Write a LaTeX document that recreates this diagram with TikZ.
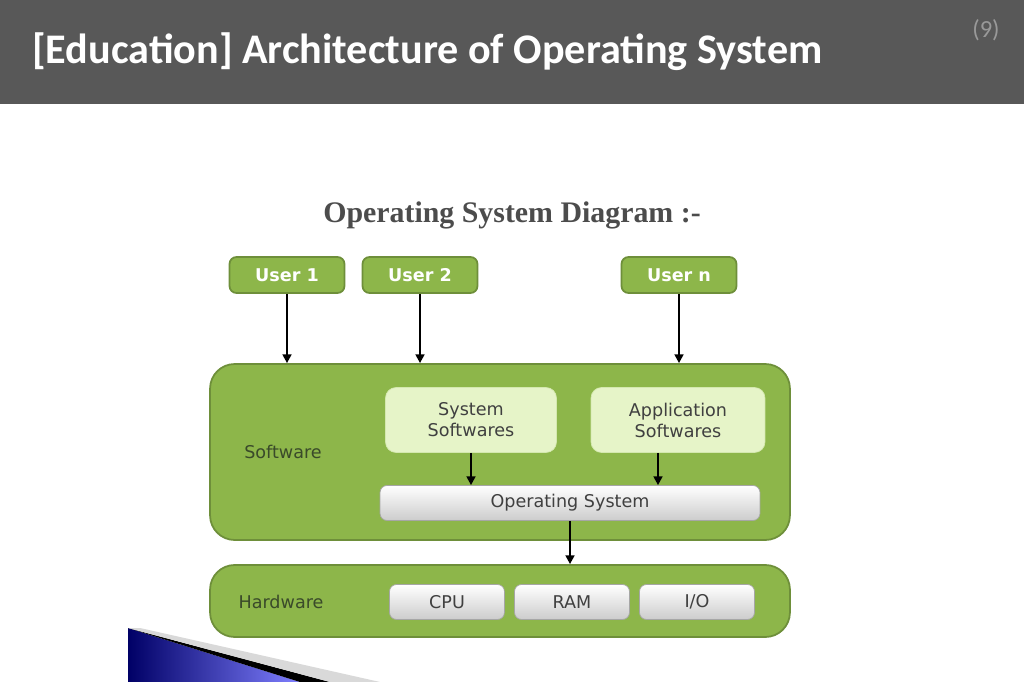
\documentclass[tikz,border=0pt]{standalone}
\usepackage{fontspec}
\setmainfont{DejaVu Sans}
\newfontfamily\titlefont{Carlito}
\newfontfamily\headfont{Liberation Serif}
\usetikzlibrary{arrows.meta}
\definecolor{hdr}{HTML}{585858}
\definecolor{grn}{HTML}{8DB64A}
\definecolor{grnd}{HTML}{6E8F3A}
\definecolor{lgrn}{HTML}{E6F4C8}
\definecolor{txt}{HTML}{3A4A2A}
\tikzset{
  px/.style={x=0.02cm,y=-0.02cm},
  greenbox/.style={draw=grnd,fill=grn,line width=1pt,rounded corners=4pt},
  bigbox/.style={draw=grnd,fill=grn,line width=1pt,rounded corners=14pt},
  lightbox/.style={draw=lgrn!80!grn,fill=lgrn,rounded corners=6pt,align=center,font=\fontsize{10}{12}\selectfont,text=black!75},
  greybox/.style={draw=black!35,top color=white,bottom color=black!20,rounded corners=4pt,font=\fontsize{10}{12}\selectfont,text=black!75},
  lbl/.style={font=\fontsize{10}{12}\selectfont,text=txt},
  arr/.style={-{Triangle[length=5pt,width=5pt]},line width=1.3pt,black}
}
\begin{document}
\begin{tikzpicture}[px]
\useasboundingbox (0,0) rectangle (1024,682);
\fill[white] (0,0) rectangle (1024,682);
\fill[hdr] (0,0) rectangle (1024,104);
\node[anchor=west,text=white,font=\titlefont\bfseries\fontsize{24}{28}\selectfont] (title) at (26,52) {[Education] Architecture of Operating System};
\node[text=black!40,font=\titlefont\fontsize{14}{16}\selectfont] (pg) at (986,30) {(9)};
\node[font=\headfont\bfseries\fontsize{17}{20}\selectfont,text=black!70] (dt) at (512,215) {Operating System Diagram :-};
% users
\node[greenbox,minimum width=115\pgflinewidth*0+2.3cm,minimum height=0.72cm,text=white,font=\fontsize{10}{12}\selectfont\bfseries] (u1) at (287,275) {User 1};
\node[greenbox,minimum width=2.3cm,minimum height=0.72cm,text=white,font=\fontsize{10}{12}\selectfont\bfseries] (u2) at (420,275) {User 2};
\node[greenbox,minimum width=2.3cm,minimum height=0.72cm,text=white,font=\fontsize{10}{12}\selectfont\bfseries] (un) at (679,275) {User n};
% software
\node[bigbox,minimum width=11.6cm,minimum height=3.52cm] (sw) at (500,452) {};
\node[lbl] (swl) at (283,452) {Software};
\node[lightbox,minimum width=3.42cm,minimum height=1.3cm] (ss) at (471,420) {System\\Softwares};
\node[lightbox,minimum width=3.48cm,minimum height=1.3cm] (as) at (678,420) {Application\\Softwares};
\node[greybox,minimum width=7.6cm,minimum height=0.7cm] (os) at (570,503) {Operating System};
% hardware
\node[bigbox,minimum width=11.6cm,minimum height=1.44cm] (hw) at (500,601) {};
\node[lbl] (hwl) at (281,602) {Hardware};
\node[greybox,minimum width=2.3cm,minimum height=0.7cm] (cpu) at (447,602) {CPU};
\node[greybox,minimum width=2.3cm,minimum height=0.7cm] (ram) at (572,602) {RAM};
\node[greybox,minimum width=2.3cm,minimum height=0.7cm] (io) at (697,602) {I/O};
% arrows
\draw[arr] (u1.south) -- (u1.south |- sw.north);
\draw[arr] (u2.south) -- (u2.south |- sw.north);
\draw[arr] (un.south) -- (un.south |- sw.north);
\draw[arr] (ss.south) -- (ss.south |- os.north);
\draw[arr] (as.south -| 658,0) -- (658,0 |- os.north);
\draw[arr] (os.south) -- (os.south |- hw.north);
% decorative wedge
\shade[left color=blue!40!black,right color=blue!50!white] (128,628) -- (128,682) -- (300,682) -- cycle;
\fill[black] (128,628) -- (300,682) -- (330,682) -- cycle;
\fill[black!15] (128,628) -- (330,682) -- (380,682) -- (140,628) -- cycle;
\end{tikzpicture}
\end{document}
